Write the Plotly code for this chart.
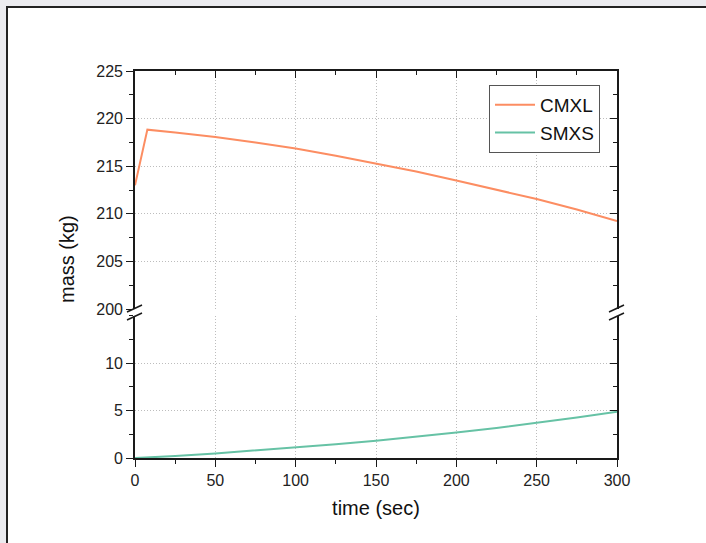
import plotly.graph_objects as go

# ---- data ----
t_cmxl = [0, 7.7, 25, 50, 75, 100, 125, 150, 175, 200, 225, 250, 275, 300]
m_cmxl = [213.0, 218.84, 218.55, 218.07, 217.5, 216.86, 216.1, 215.3, 214.45, 213.5, 212.55, 211.55, 210.45, 209.25]
t_smxs = [0, 25, 50, 75, 100, 125, 150, 175, 200, 225, 250, 275, 300]
m_smxs = [0, 0.2, 0.48, 0.78, 1.1, 1.45, 1.82, 2.23, 2.68, 3.17, 3.7, 4.26, 4.86]

x_ticks = [0, 50, 100, 150, 200, 250, 300]
y_low_ticks = [0, 5, 10]
y_up_ticks = [200, 205, 210, 215, 220, 225]

# ---- layout geometry (pixels) ----
W, H = 706, 543
L, R, T, B = 135, 617, 71, 458
PW, PH = R - L, B - T
def px(x):
    return (x - L) / PW
def py(y):
    return (B - y) / PH

low_dom = [0, py(315.5)]
up_dom = [py(309), 1]

FONT = "Liberation Sans, Arial, sans-serif"
AX = "#1a1a1a"
GRID = "#bdbdbd"
GDASH = "1px,2px"
C1 = "#FC8D62"
C2 = "#66C2A5"

fig = go.Figure()
fig.add_trace(go.Scatter(x=t_cmxl, y=m_cmxl, mode="lines", name="CMXL",
                         line=dict(color=C1, width=2), xaxis="x2", yaxis="y2"))
fig.add_trace(go.Scatter(x=t_smxs, y=m_smxs, mode="lines", name="SMXS",
                         line=dict(color=C2, width=2), xaxis="x", yaxis="y"))
# empty helpers so that right-side axes render
fig.add_trace(go.Scatter(x=[], y=[], xaxis="x", yaxis="y3", showlegend=False))
fig.add_trace(go.Scatter(x=[], y=[], xaxis="x2", yaxis="y4", showlegend=False))

tickfont = dict(family=FONT, size=16, color="#222")
common_y = dict(showline=True, linecolor=AX, linewidth=1.6, zeroline=False,
                tickcolor=AX, tickwidth=1.4, tickfont=tickfont,
                gridcolor=GRID, griddash=GDASH, gridwidth=1)

fig.update_layout(
    width=W, height=H,
    margin=dict(l=L, r=W - R, t=T, b=H - B),
    paper_bgcolor="#ebebef",
    plot_bgcolor="rgba(0,0,0,0)",
    showlegend=True,
    legend=dict(x=px(489), y=py(85), xanchor="left", yanchor="top",
                bgcolor="white", bordercolor="#555", borderwidth=1,
                font=dict(family=FONT, size=19, color="#111"),
                tracegroupgap=0, itemwidth=40),
    xaxis=dict(domain=[0, 1], range=[0, 300], anchor="y",
               tickvals=x_ticks, ticks="outside", ticklen=7,
               tickcolor=AX, tickwidth=1.4, tickfont=tickfont,
               minor=dict(dtick=25, tick0=0, ticks="outside", ticklen=4, tickcolor=AX, showgrid=False),
               showline=True, linecolor=AX, linewidth=1.6, zeroline=False,
               showgrid=True, gridcolor=GRID, griddash=GDASH, gridwidth=1,
               title=dict(text="time (sec)", font=dict(family=FONT, size=20, color="#111"), standoff=13)),
    xaxis2=dict(domain=[0, 1], range=[0, 300], anchor="y2", side="top", matches="x",
                tickvals=x_ticks, ticks="inside", ticklen=7, showticklabels=False,
                tickcolor=AX, tickwidth=1.4,
                minor=dict(dtick=25, tick0=0, ticks="inside", ticklen=4, tickcolor=AX, showgrid=False),
                showline=True, linecolor=AX, linewidth=1.6, zeroline=False,
                showgrid=True, gridcolor=GRID, griddash=GDASH, gridwidth=1),
    yaxis=dict(domain=low_dom, range=[0, 15], anchor="x", side="left",
               tickvals=y_low_ticks, ticks="outside", ticklen=7, showgrid=True,
               minor=dict(dtick=2.5, tick0=0, ticks="outside", ticklen=4, tickcolor=AX, showgrid=False),
               **common_y),
    yaxis2=dict(domain=up_dom, range=[200, 225], anchor="x2", side="left",
                tickvals=y_up_ticks, ticks="outside", ticklen=7, showgrid=True,
                minor=dict(dtick=2.5, tick0=200, ticks="outside", ticklen=4, tickcolor=AX, showgrid=False),
                **common_y),
    yaxis3=dict(overlaying="y", range=[0, 15], anchor="x", side="right",
                tickvals=y_low_ticks, ticks="inside", ticklen=7, showticklabels=False, showgrid=False,
                minor=dict(dtick=2.5, tick0=0, ticks="inside", ticklen=4, tickcolor=AX, showgrid=False),
                showline=True, linecolor=AX, linewidth=1.6, zeroline=False, tickcolor=AX, tickwidth=1.4),
    yaxis4=dict(overlaying="y2", range=[200, 225], anchor="x2", side="right",
                tickvals=y_up_ticks, ticks="inside", ticklen=7, showticklabels=False, showgrid=False,
                minor=dict(dtick=2.5, tick0=200, ticks="inside", ticklen=4, tickcolor=AX, showgrid=False),
                showline=True, linecolor=AX, linewidth=1.6, zeroline=False, tickcolor=AX, tickwidth=1.4),
)

# y-axis title shared by both segments
fig.add_annotation(text="mass (kg)", xref="paper", yref="paper",
                   x=px(67), y=py(259), xanchor="center", yanchor="middle",
                   textangle=-90, showarrow=False,
                   font=dict(family=FONT, size=20, color="#111"))

# outer frame (white card with dark border)
fig.add_shape(type="rect", xref="paper", yref="paper",
              x0=px(7), x1=px(730), y0=py(7), y1=py(570),
              fillcolor="white", line=dict(color="#222", width=2), layer="below")

# axis-break marks
for xc in (L, R):
    for yc in (308.5, 316.5):
        fig.add_shape(type="line", xref="paper", yref="paper",
                      x0=px(xc - 8), y0=py(yc + 3.5), x1=px(xc + 7), y1=py(yc - 3.5),
                      line=dict(color=AX, width=1.6))

fig.write_html("out.html", config={"displayModeBar": False},
               post_script="document.body.style.margin='0';document.body.style.overflow='hidden';")
